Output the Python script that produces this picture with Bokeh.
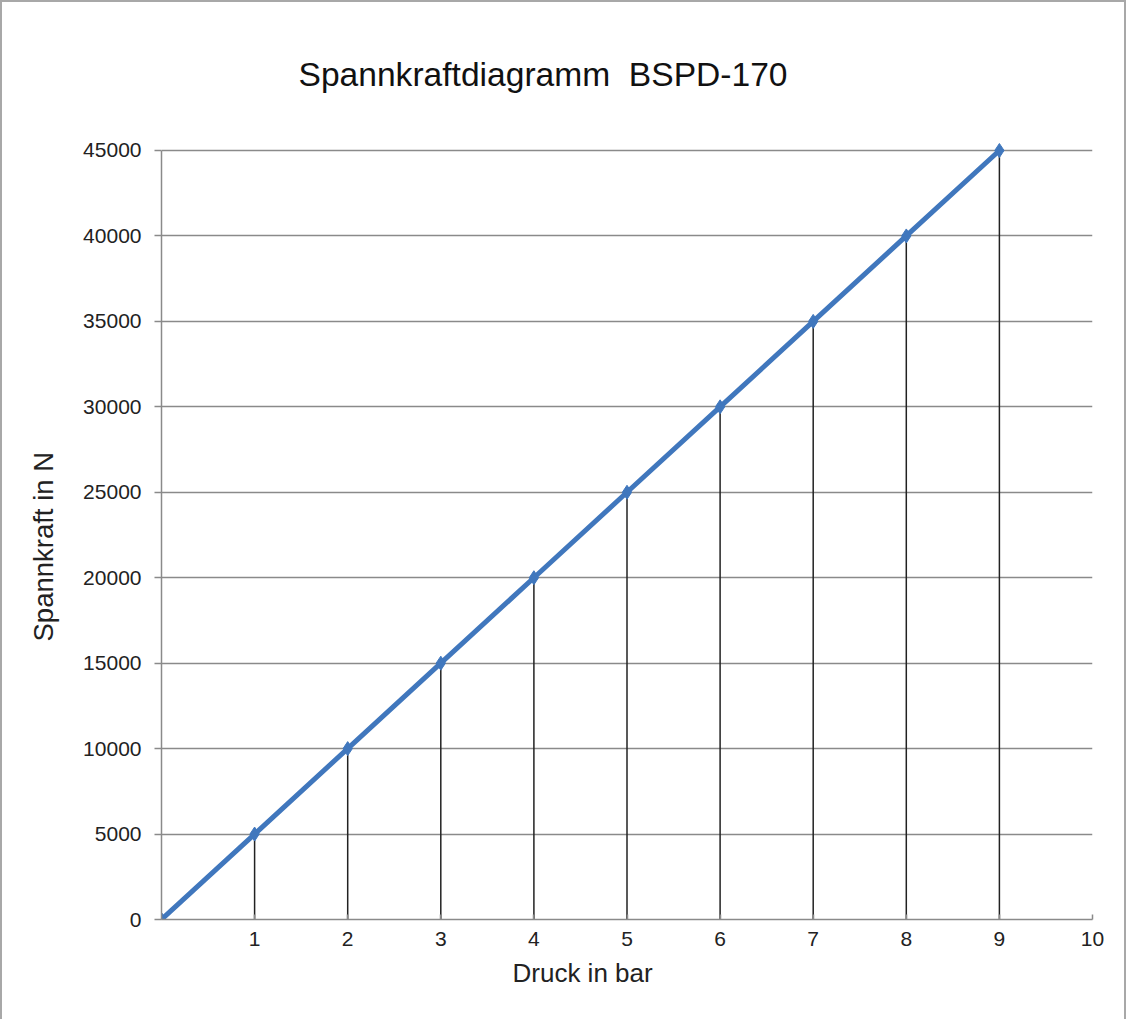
from bokeh.plotting import figure
from bokeh.models import FixedTicker, Title, Range1d, ColumnDataSource
from bokeh.embed import file_html
from bokeh.resources import INLINE

# data
druck_bar = [0, 1, 2, 3, 4, 5, 6, 7, 8, 9]
spannkraft_n = [0, 5000, 10000, 15000, 20000, 25000, 30000, 35000, 40000, 45000]
x_ticks = [1, 2, 3, 4, 5, 6, 7, 8, 9, 10]
y_ticks = [0, 5000, 10000, 15000, 20000, 25000, 30000, 35000, 40000, 45000]
x_min, x_max = 0, 10
y_min, y_max = 0, 45000
title_text = "Spannkraftdiagramm  BSPD-170"
x_label = "Druck in bar"
y_label = "Spannkraft in N"

FONT = "Liberation Sans"
BLUE = "#4077bd"
GRID = "#8a8a8a"

p = figure(width=1126, height=1019, output_backend="svg", toolbar_location=None,
           x_range=Range1d(x_min, x_max), y_range=Range1d(y_min, 45819))
p.styles = {"border-left": "2px solid #a8a8a8", "border-top": "2px solid #a8a8a8",
            "border-right": "2px solid #a8a8a8"}
p.min_border_left = 159
p.min_border_right = 36
p.min_border_top = 134
p.min_border_bottom = 102
p.outline_line_color = None
p.background_fill_color = "white"
p.border_fill_color = "white"

# grid
p.xgrid.grid_line_color = None
p.ygrid.ticker = FixedTicker(ticks=y_ticks)
p.ygrid.grid_line_color = GRID
p.ygrid.grid_line_width = 1.5

# axes
p.xaxis.ticker = FixedTicker(ticks=x_ticks)
p.yaxis.ticker = FixedTicker(ticks=y_ticks)
p.yaxis.bounds = (y_min, y_max)
for ax in (p.xaxis[0], p.yaxis[0]):
    ax.axis_line_color = GRID
    ax.axis_line_width = 1.5
    ax.major_tick_line_color = GRID
    ax.major_tick_line_width = 1.5
    ax.minor_tick_line_color = None
    ax.major_label_text_font = FONT
    ax.major_label_text_font_size = "21px"
    ax.major_label_text_color = "#222222"
p.yaxis.major_tick_out = 7
p.yaxis.major_tick_in = 0
p.yaxis.major_label_standoff = 13
p.xaxis.major_tick_out = 0
p.xaxis.major_tick_in = 5
p.xaxis.major_label_standoff = 12

src = ColumnDataSource(dict(x=druck_bar, y=spannkraft_n, y0=[y_min] * len(druck_bar)))

# drop lines
p.segment(x0="x", y0="y0", x1="x", y1="y", source=src, line_color="#222222", line_width=1.5)

# series
p.line("x", "y", source=src, line_color=BLUE, line_width=5)
p.scatter("x", "y", source=src, marker="diamond", size=14, fill_color=BLUE, line_color=BLUE)

# texts
p.add_layout(Title(text=title_text.replace("  ", "\u00a0 "), text_font=FONT,
                   text_font_size="33.6px", text_font_style="normal", text_color="#111111",
                   align="left", offset=137, standoff=85, vertical_align="middle"), "above")
# small spacer between the x tick labels and the x axis title
p.add_layout(Title(text="\u00a0", text_font=FONT, text_font_size="10px",
                   text_alpha=0, standoff=14), "below")
p.add_layout(Title(text=x_label, text_font=FONT, text_font_size="26px",
                   text_font_style="normal", text_color="#222222",
                   align="left", offset=351, standoff=14, vertical_align="bottom"), "below")
p.add_layout(Title(text=y_label, text_font=FONT, text_font_size="27.5px",
                   text_font_style="normal", text_color="#222222",
                   align="left", offset=278, standoff=40, vertical_align="top"), "left")

open("out.html", "w").write(file_html(p, INLINE))
